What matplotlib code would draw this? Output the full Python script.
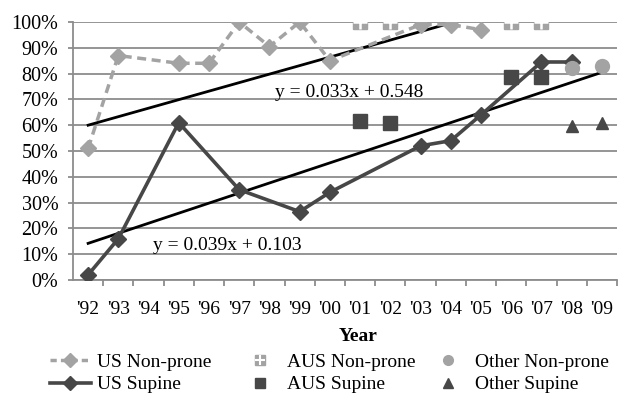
import numpy as np
import matplotlib
matplotlib.use("Agg")
import matplotlib.pyplot as plt
from matplotlib.lines import Line2D

plt.rcParams['font.family'] = ['Liberation Serif', 'DejaVu Serif']

years = ["'92", "'93", "'94", "'95", "'96", "'97", "'98", "'99", "'00",
         "'01", "'02", "'03", "'04", "'05", "'06", "'07", "'08", "'09"]
N = None
us_nonprone = [0.51, 0.87, N, 0.84, 0.84, 1.00, 0.905, 1.00, 0.85,
               N, N, 0.99, 0.99, 0.97, N, N, N, N]
us_supine = [0.02, 0.16, N, 0.61, N, 0.35, N, 0.265, 0.34,
             N, N, 0.52, 0.54, 0.64, N, 0.845, 0.845, N]
aus_nonprone = [N, N, N, N, N, N, N, N, N,
                1.00, 1.00, N, N, N, 1.00, 1.00, N, N]
aus_supine = [N, N, N, N, N, N, N, N, N,
              0.615, 0.61, N, N, N, 0.785, 0.785, N, N]
other_nonprone = [N] * 16 + [0.82, 0.83]
other_supine = [N] * 16 + [0.595, 0.61]

# trendlines (x = 1 for '92)
trend_np = dict(slope=0.033, intercept=0.567, x0=1, x1=13, label="y = 0.033x + 0.548")
trend_sp = dict(slope=0.039, intercept=0.103, x0=1, x1=18, label="y = 0.039x + 0.103")

yticks = [0.0, 0.1, 0.2, 0.3, 0.4, 0.5, 0.6, 0.7, 0.8, 0.9, 1.0]

LIGHT = '#a3a3a3'
DARK = '#474747'
GRID = '#8c8c8c'
FS = 14

def xy(series):
    x = [i for i, v in enumerate(series) if v is not None]
    y = [v for v in series if v is not None]
    return np.array(x), np.array(y)

fig = plt.figure(figsize=(6.2, 3.97), dpi=100)
ax = fig.add_axes([73/620, 1-280/397, (617-73)/620, (280-22)/397])

ax.set_ylim(0, 1.0)
ax.set_xlim(-0.5, len(years) - 0.5)
ax.set_yticks(yticks)
ax.set_yticklabels([f"{int(round(t*100))}%" for t in yticks], fontsize=14.5)
ax.grid(axis='y', color=GRID, linewidth=1.3)
ax.set_axisbelow(True)
for s in ['top', 'right']:
    ax.spines[s].set_visible(False)
for s in ['left', 'bottom']:
    ax.spines[s].set_color(GRID)
    ax.spines[s].set_linewidth(1.3)
ax.tick_params(axis='y', color=GRID, width=1.3, length=3.6, pad=7)

ax.set_xticks(np.arange(len(years)))
ax.set_xticklabels(years, fontsize=14)
ax.tick_params(axis='x', which='major', length=0, pad=15)
ax.set_xticks(np.arange(len(years)) + 0.5, minor=True)
ax.tick_params(axis='x', which='minor', length=4.5, color=GRID, width=1.3)
ax.set_xlabel('Year', fontsize=FS, fontweight='bold')
ax.xaxis.set_label_coords((358-73)/544, -(328-280)/258, transform=ax.transAxes)
ax.xaxis.label.set_va('top')

# trendlines
for t in (trend_np, trend_sp):
    xs = np.array([t['x0'], t['x1']])
    ax.plot(xs - 1, t['slope'] * xs + t['intercept'], color='black', linewidth=2, zorder=3)

x, y = xy(us_nonprone)
ax.plot(x, y, color=LIGHT, linewidth=2.5, linestyle=(0, (2.6, 1.6)), marker='D',
        markersize=8, markerfacecolor=LIGHT, markeredgecolor=LIGHT, zorder=4)
x, y = xy(us_supine)
ax.plot(x, y, color=DARK, linewidth=2.6, marker='D', markersize=8,
        markerfacecolor=DARK, markeredgecolor=DARK, zorder=5)
x, y = xy(aus_nonprone)
ax.plot(x, y, linestyle='none', marker='s', markersize=10, color=LIGHT, zorder=4)
ax.plot(x, y, linestyle='none', marker='+', markersize=10, markeredgewidth=1.8, color='white', zorder=4)
x, y = xy(aus_supine)
ax.plot(x, y, linestyle='none', marker='s', markersize=10, color=DARK, zorder=4)
x, y = xy(other_nonprone)
ax.plot(x, y, linestyle='none', marker='o', markersize=10, color=LIGHT, zorder=6)
x, y = xy(other_supine)
ax.plot(x, y, linestyle='none', marker='^', markersize=9, color=DARK, zorder=4)

ax.text(6.2, 0.727, trend_np['label'], fontsize=FS, ha='left', va='center', zorder=7)
ax.text(2.15, 0.135, trend_sp['label'], fontsize=FS, ha='left', va='center', zorder=7)

handles = [
    Line2D([], [], color=LIGHT, linewidth=2.5, linestyle=(0, (1.8, 1.2)), marker='D',
           markersize=7, markerfacecolor=LIGHT, markeredgecolor=LIGHT),
    Line2D([], [], color=DARK, linewidth=2.6, marker='D', markersize=7,
           markerfacecolor=DARK, markeredgecolor=DARK),
    (Line2D([], [], linestyle='none', marker='s', markersize=7, color=LIGHT),
     Line2D([], [], linestyle='none', marker='+', markersize=7, markeredgewidth=1.5, color='white')),
    Line2D([], [], linestyle='none', marker='s', markersize=7, color=DARK),
    Line2D([], [], linestyle='none', marker='o', markersize=7, color=LIGHT),
    Line2D([], [], linestyle='none', marker='^', markersize=7, color=DARK),
]
labels = ['US Non-prone', 'US Supine', 'AUS Non-prone', 'AUS Supine',
          'Other Non-prone', 'Other Supine']
col_x = [50, 240, 428]
for c in range(3):
    fig.legend(handles[2*c:2*c+2], labels[2*c:2*c+2], loc='upper left',
               bbox_to_anchor=(col_x[c]/620, 1-353/397), frameon=False, fontsize=FS,
               handlelength=2.1, handletextpad=0.3, labelspacing=0.27,
               borderaxespad=0, borderpad=0)

fig.savefig('out.png', dpi=100)
